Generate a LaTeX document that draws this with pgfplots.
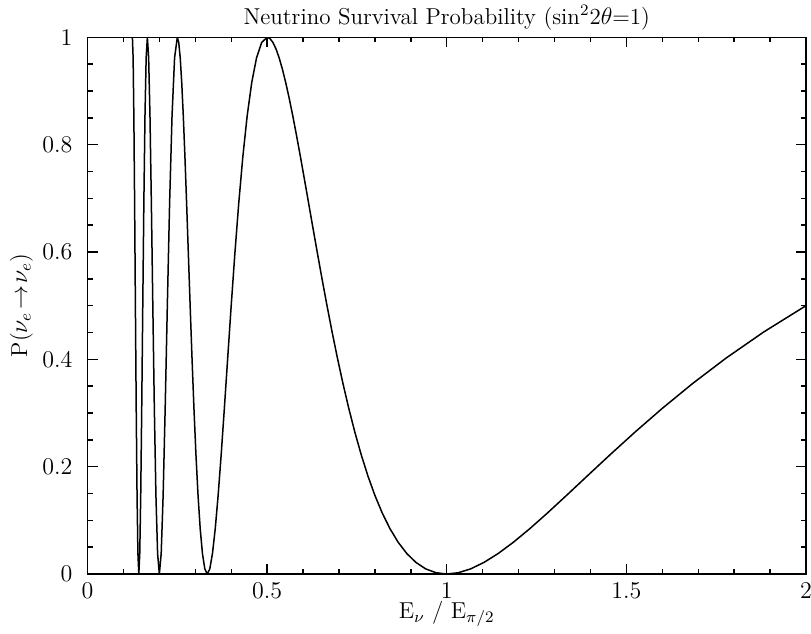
\documentclass[border=0pt]{standalone}
\usepackage{pgfplots}
\pgfplotsset{compat=1.18}
\pgfplotstableread{
x P
0.125 1
0.126984 0.96194
0.129032 0.85355
0.131148 0.69134
0.133333 0.5
0.135593 0.30866
0.137931 0.14645
0.140351 0.03806
0.142857 0
0.145455 0.03806
0.148148 0.14645
0.150943 0.30866
0.153846 0.5
0.156863 0.69134
0.16 0.85355
0.163265 0.96194
0.166667 1
0.170213 0.96194
0.173913 0.85355
0.177778 0.69134
0.181818 0.5
0.186047 0.30866
0.190476 0.14645
0.195122 0.03806
0.2 0
0.205128 0.03806
0.210526 0.14645
0.216216 0.30866
0.222222 0.5
0.228571 0.69134
0.235294 0.85355
0.242424 0.96194
0.25 1
0.253968 0.99039
0.258065 0.96194
0.262295 0.91574
0.266667 0.85355
0.271186 0.77779
0.275862 0.69134
0.280702 0.59755
0.285714 0.5
0.290909 0.40246
0.296296 0.30866
0.301887 0.22222
0.307692 0.14645
0.313725 0.08427
0.32 0.03806
0.326531 0.00961
0.333333 0
0.340426 0.00961
0.347826 0.03806
0.355556 0.08427
0.363636 0.14645
0.372093 0.22222
0.380952 0.30866
0.390244 0.40246
0.4 0.5
0.410256 0.59755
0.421053 0.69134
0.432432 0.77779
0.444444 0.85355
0.457143 0.91574
0.470588 0.96194
0.484848 0.99039
0.5 1
0.507937 0.99759
0.516129 0.99039
0.524590 0.97847
0.533333 0.96194
0.542373 0.94096
0.551724 0.91574
0.561404 0.88651
0.571429 0.85355
0.581818 0.81720
0.592593 0.77779
0.603774 0.73570
0.615385 0.69134
0.627451 0.64514
0.64 0.59755
0.653061 0.54901
0.666667 0.5
0.680851 0.45099
0.695652 0.40246
0.711111 0.35486
0.727273 0.30866
0.744186 0.26430
0.761905 0.22222
0.780488 0.18281
0.8 0.14645
0.820513 0.11350
0.842105 0.08427
0.864865 0.05904
0.888889 0.03806
0.914286 0.02153
0.941176 0.00961
0.969697 0.00241
1 0
1.03226 0.00241
1.06667 0.00961
1.10345 0.02153
1.14286 0.03806
1.18519 0.05904
1.23077 0.08427
1.28 0.11350
1.33333 0.14645
1.39130 0.18281
1.45455 0.22222
1.52381 0.26430
1.6 0.30866
1.68421 0.35486
1.77778 0.40246
1.88235 0.45099
2 0.5
}\datatable
\newcommand{\chartfont}{\fontsize{11.5}{14}\selectfont}
\begin{document}
\begin{tikzpicture}
\begin{axis}[
  scale only axis,
  width=359.25pt, height=268.35pt,
  xmin=0, xmax=2, ymin=0, ymax=1,
  xtick={0,0.5,1,1.5,2}, minor x tick num=4,
  ytick={0,0.2,0.4,0.6,0.8,1}, minor y tick num=3,
  tick align=inside,
  major tick length=5pt, minor tick length=2.5pt,
  tick style={black, line width=0.7pt},
  axis line style={line width=0.75pt},
  xticklabel style={font=\chartfont, inner ysep=1pt, yshift=-3.4pt},
  yticklabel style={font=\chartfont, xshift=-4pt},
  every axis title shift=0pt,
  title={Neutrino Survival Probability (sin$^2$2$\theta$=1)},
  title style={font=\chartfont, at={(axis description cs:0.5,1)}, anchor=base, yshift=6.4pt},
  xlabel={E$_\nu$ / E$_{\pi/2}$},
  xlabel style={font=\chartfont, inner sep=0.5pt, at={(axis description cs:0.5,0)}, anchor=base, yshift=-22.3pt},
  ylabel={P($\nu_e\!\rightarrow\!\nu_e$)},
  ylabel style={font=\chartfont, at={(axis description cs:-0.0842,0.5)}, anchor=base, rotate=0},
]
\addplot[black, line width=0.75pt, mark=none] table[x=x, y=P] {\datatable};
\end{axis}
\pgfresetboundingbox
\path (current axis.south west) ++(-43.75pt,-29.5pt) coordinate (bl);
\path (current axis.north east) ++(2.5pt,18.65pt) coordinate (tr);
\useasboundingbox (bl) rectangle (tr);
\end{tikzpicture}
\end{document}
